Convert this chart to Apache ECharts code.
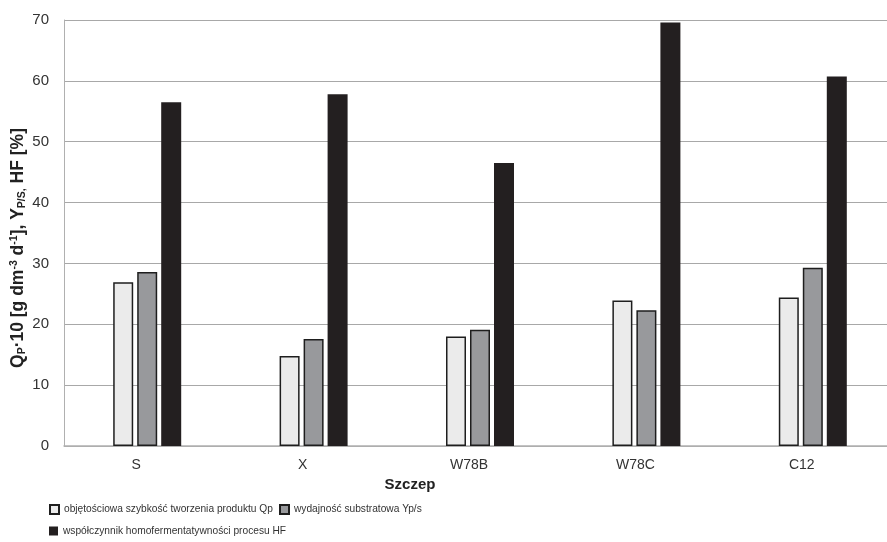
<!DOCTYPE html>
<html><head><meta charset="utf-8">
<script src="https://cdn.jsdelivr.net/npm/echarts@6/dist/echarts.min.js"></script>
<style>html,body{margin:0;padding:0;background:#fff}#c{width:887px;height:542px}</style>
</head><body><div id="c"></div>
<script>
const categories = ['S', 'X', 'W78B', 'W78C', 'C12'];
const seriesNames = ['objętościowa szybkość tworzenia produktu Qp', 'wydajność substratowa Yp/s', 'współczynnik homofermentatywności procesu HF'];
const qp = [26.9, 14.8, 18.0, 23.9, 24.4];
const yps = [28.6, 17.6, 19.1, 22.3, 29.3];
const hf = [56.5, 57.8, 46.5, 69.6, 60.7];
const yTicks = [0, 10, 20, 30, 40, 50, 60, 70];

const FONT = "'Liberation Sans',Arial,sans-serif";
const chart = echarts.init(document.getElementById('c'), null, {renderer: 'canvas'});
const legendText = {fontFamily: FONT, fontSize: 10.2, color: '#333'};
const legendBase = {itemWidth: 9, itemHeight: 9, itemGap: 14, icon: 'rect', textStyle: legendText, padding: 0};
chart.setOption({
  animation: false,
  textStyle: {fontFamily: FONT},
  grid: {left: 64, right: -9, top: 20, bottom: 96, containLabel: false, outerBoundsMode: 'none'},
  legend: [
    Object.assign({data: [seriesNames[0]], left: 49, top: 504}, legendBase),
    Object.assign({data: [seriesNames[1]], left: 279, top: 504}, legendBase),
    Object.assign({data: [seriesNames[2]], left: 49, top: 526}, legendBase)
  ],
  xAxis: {
    type: 'category', data: categories,
    name: 'Szczep', nameLocation: 'middle', nameGap: 31, nameMoveOverlap: false,
    nameTextStyle: {fontFamily: FONT, fontSize: 15, fontWeight: 'bold', color: '#222', padding: [0, 140, 0, 0]},
    axisLine: {lineStyle: {color: '#b0b0b0', width: 1.5}},
    axisTick: {show: false},
    axisLabel: {fontFamily: FONT, fontSize: 14, color: '#333', margin: 12, padding: [0, 22, 0, 0]}
  },
  yAxis: {
    type: 'value', min: yTicks[0], max: yTicks[yTicks.length - 1], interval: 10,
    name: '{a|Q}{s|P}{a|·10 [g dm}{u|-3}{a| d}{u|-1}{a|], Y}{s|P/S,}{a| HF [%]}',
    nameLocation: 'middle', nameGap: 34, nameRotate: 90, nameMoveOverlap: false,
    nameTextStyle: {
      padding: [0, 30, 0, 0],
      rich: {
        a: {fontFamily: FONT, fontSize: 17.5, fontWeight: 'bold', color: '#222', lineHeight: 24, verticalAlign: 'middle'},
        s: {fontFamily: FONT, fontSize: 10.5, fontWeight: 'bold', color: '#222', lineHeight: 24, verticalAlign: 'bottom', padding: [0, 0, 2, 0]},
        u: {fontFamily: FONT, fontSize: 10.5, fontWeight: 'bold', color: '#222', lineHeight: 24, verticalAlign: 'top', padding: [3, 0, 0, 0]}
      }
    },
    axisLine: {show: true, lineStyle: {color: '#b0b0b0', width: 1}},
    axisTick: {show: false},
    splitLine: {lineStyle: {color: '#a8a8a8', width: 1}},
    axisLabel: {fontFamily: FONT, fontSize: 15, color: '#333', margin: 15}
  },
  series: [
    {name: seriesNames[0], type: 'bar', data: qp, barWidth: 20, barGap: '20%',
      itemStyle: {color: '#ebebeb', borderColor: '#1e1e1e', borderWidth: 1.5}},
    {name: seriesNames[1], type: 'bar', data: yps, barWidth: 20, barGap: '20%',
      itemStyle: {color: '#98999c', borderColor: '#1e1e1e', borderWidth: 1.5}},
    {name: seriesNames[2], type: 'bar', data: hf, barWidth: 20, barGap: '20%',
      itemStyle: {color: '#231f20', borderColor: '#231f20', borderWidth: 0}}
  ]
});
</script></body></html>
